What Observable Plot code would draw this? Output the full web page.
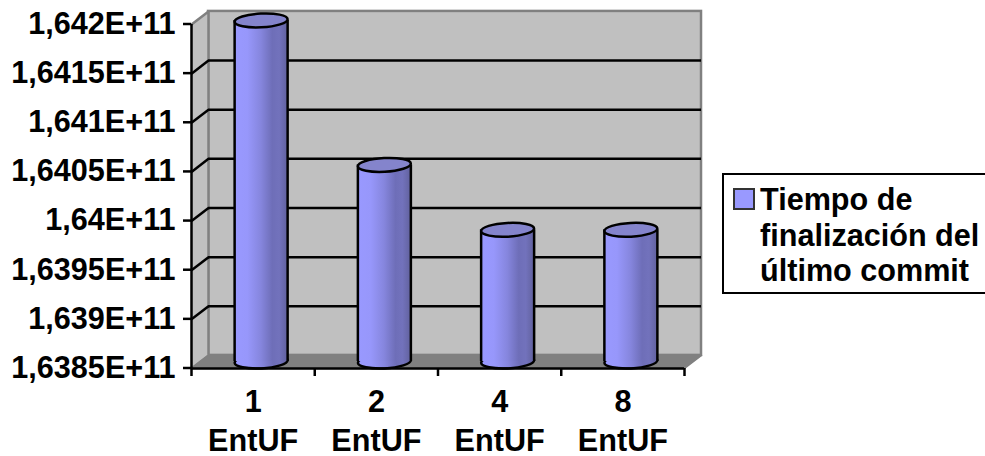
<!DOCTYPE html>
<html lang="es">
<head>
<meta charset="utf-8">
<script src="https://cdn.jsdelivr.net/npm/d3@7"></script>
<script src="https://cdn.jsdelivr.net/npm/@observablehq/plot@0.6"></script>
<style>
  html, body { margin: 0; padding: 0; background: #fff; overflow: hidden; }
  #chart { position: relative; width: 985px; height: 456px; overflow: hidden; }
  #chart svg { display: block; }
  .legend {
    position: absolute; left: 722px; top: 173px; width: 300px; height: 117px;
    border: 2px solid #000; box-sizing: content-box; background: #fff;
    font: bold 30.6px/35.5px "Liberation Sans", Arial, sans-serif; color: #000;
  }
  .legend i {
    position: absolute; left: 9px; top: 13px; width: 18px; height: 18px;
    background: #9999ff; border: 2px solid #333;
  }
  .legend div { position: absolute; left: 36px; top: 7px; white-space: nowrap; }
</style>
</head>
<body>
<div id="chart"></div>
<script>
// Commit completion time per number of update entities
const categories = ["1\nEntUF", "2\nEntUF", "4\nEntUF", "8\nEntUF"];
const finishTimes = [1.64197e11, 1.6405e11, 1.63984e11, 1.63984e11];
const yTicks = [1.6385e11, 1.639e11, 1.6395e11, 1.64e11, 1.6405e11, 1.641e11, 1.6415e11, 1.642e11];
const yLabels = ["1,6385E+11", "1,639E+11", "1,6395E+11", "1,64E+11", "1,6405E+11", "1,641E+11", "1,6415E+11", "1,642E+11"];
const legendLines = ["Tiempo de", "finalización del", "último commit"];

const yMin = yTicks[0];
const yMax = yTicks[yTicks.length - 1];
const count = categories.length;

// Depth of the 3D box, in scale units
const depthX = 0.138;
const depthY = 1.33e7;
const barHalf = 0.215;

const rows = finishTimes.map((value, i) => ({i, value, mid: i + 0.5}));

// Flattened ellipse for the cylinder caps
const capSymbol = {
  draw(context, size) {
    const rx = Math.sqrt(size / Math.PI);
    const ry = rx * 0.26;
    const k = 0.5523;
    context.moveTo(-rx, 0);
    context.bezierCurveTo(-rx, -ry * k, -rx * k, -ry, 0, -ry);
    context.bezierCurveTo(rx * k, -ry, rx, -ry * k, rx, 0);
    context.bezierCurveTo(rx, ry * k, rx * k, ry, 0, ry);
    context.bezierCurveTo(-rx * k, ry, -rx, ry * k, -rx, 0);
    context.closePath();
  }
};

function gradientDefs() {
  const g = d3.create("svg:g");
  const grad = g.append("defs").append("linearGradient").attr("id", "cylinder");
  [[0, "#9999ff"], [0.25, "#9797fb"], [0.5, "#8686de"], [0.72, "#6e6eb8"],
   [0.85, "#7272bc"], [1, "#62629f"]].forEach(([o, c]) =>
    grad.append("stop").attr("offset", o).attr("stop-color", c));
  return g.node();
}

const wallStroke = "#808080";
const barOffset = {dx: 8, dy: -7};

const plot = Plot.plot({
  width: 985,
  height: 456,
  marginLeft: 191,
  marginRight: 301,
  marginTop: 24,
  marginBottom: 88,
  style: {fontFamily: '"Liberation Sans", Arial, sans-serif', color: "#000", background: "#fff", overflow: "visible"},
  x: {type: "linear", domain: [0, count], axis: null},
  y: {type: "linear", domain: [yMin, yMax], axis: null},
  marks: [
    gradientDefs,
    // Back wall
    Plot.rect([0], {
      x1: depthX, x2: count + depthX, y1: yMin + depthY, y2: yMax + depthY,
      fill: "#c0c0c0", stroke: wallStroke, strokeWidth: 2.5
    }),
    // Side wall
    Plot.line(
      [[0, yMin], [depthX, yMin + depthY], [depthX, yMax + depthY], [0, yMax]],
      {x: "0", y: "1", fill: "#c0c0c0", stroke: wallStroke, strokeWidth: 2.5}
    ),
    // Floor
    Plot.line(
      [[0, yMin], [count, yMin], [count + depthX, yMin + depthY], [depthX, yMin + depthY], [0, yMin]],
      {x: "0", y: "1", fill: "#808080", stroke: wallStroke, strokeWidth: 1.5}
    ),
    // Gridlines on the back wall, with the diagonals on the side wall
    Plot.ruleY(yTicks.slice(1, -1), {
      y: d => d + depthY, x1: depthX, x2: count + depthX, stroke: "#000", strokeWidth: 2.5
    }),
    Plot.link(yTicks.slice(1, -1), {
      x1: 0, x2: depthX, y1: d => d, y2: d => d + depthY, stroke: "#000", strokeWidth: 2.5
    }),
    // Cylinders: lower cap, body, outlines, upper cap
    Plot.dot(rows, {
      x: "mid", y: () => yMin, r: 26.5, symbol: capSymbol, rotate: -3, ...barOffset,
      fill: "url(#cylinder)", stroke: "#000", strokeWidth: 2.5
    }),
    Plot.rect(rows, {
      x1: d => d.mid - barHalf, x2: d => d.mid + barHalf, y1: () => yMin, y2: "value", ...barOffset,
      fill: "url(#cylinder)"
    }),
    Plot.ruleX(rows, {x: d => d.mid - barHalf, y1: () => yMin, y2: "value", ...barOffset, stroke: "#000", strokeWidth: 2.5}),
    Plot.ruleX(rows, {x: d => d.mid + barHalf, y1: () => yMin, y2: "value", ...barOffset, stroke: "#000", strokeWidth: 2.5}),
    Plot.dot(rows, {
      x: "mid", y: "value", r: 26.5, symbol: capSymbol, rotate: -3, ...barOffset,
      fill: "#8484cc", stroke: "#000", strokeWidth: 2.5
    }),
    // Front axes
    Plot.ruleX([0], {y1: yMin, y2: yMax, stroke: "#000", strokeWidth: 2.5}),
    Plot.ruleY([yMin], {x1: 0, x2: count, stroke: "#000", strokeWidth: 2.5}),
    Plot.axisY(yTicks, {
      anchor: "left", tickSize: 8, tickPadding: 8, strokeWidth: 2.5, stroke: "#000",
      tickFormat: d => yLabels[yTicks.indexOf(d)],
      fontSize: 30.6, fontWeight: "bold", fill: "#000", label: null, dy: -0.5
    }),
    Plot.axisX(d3.range(count + 1), {
      anchor: "bottom", tickSize: 8, strokeWidth: 2.5, stroke: "#000", tickFormat: () => "", label: null
    }),
    Plot.axisX(rows.map(d => d.mid), {
      anchor: "bottom", tickSize: 0, tickPadding: 16, lineHeight: 1.28,
      tickFormat: d => categories[Math.floor(d)],
      fontSize: 30.6, fontWeight: "bold", fill: "#000", label: null
    })
  ]
});

const chart = document.getElementById("chart");
chart.append(plot);

// Legend box to the right of the plot
const legend = document.createElement("div");
legend.className = "legend";
legend.append(document.createElement("i"));
const lines = document.createElement("div");
lines.innerHTML = legendLines.join("<br>");
legend.append(lines);
chart.append(legend);
</script>
</body>
</html>
